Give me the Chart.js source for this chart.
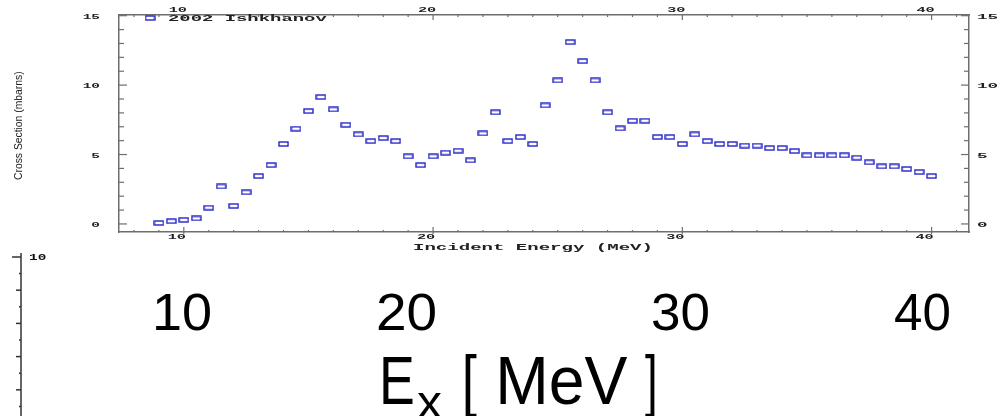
<!DOCTYPE html>
<html>
<head>
<meta charset="utf-8">
<script src="https://cdn.jsdelivr.net/npm/chart.js@4.4.1/dist/chart.umd.min.js"></script>
<style>
html, body { margin: 0; padding: 0; background: #fff; }
canvas { display: block; }
</style>
</head>
<body>
<canvas id="myChart" width="1004" height="416"></canvas>
<script>
// data
var energies = [9, 9.5, 10, 10.5, 11, 11.5, 12, 12.5, 13, 13.5, 14, 14.5, 15, 15.5, 16, 16.5,
  17, 17.5, 18, 18.5, 19, 19.5, 20, 20.5, 21, 21.5, 22, 22.5, 23, 23.5, 24, 24.5,
  25, 25.5, 26, 26.5, 27, 27.5, 28, 28.5, 29, 29.5, 30, 30.5, 31, 31.5, 32, 32.5,
  33, 33.5, 34, 34.5, 35, 35.5, 36, 36.5, 37, 37.5, 38, 38.5, 39, 39.5, 40];
var crossSection = [0.07, 0.2, 0.29, 0.4, 1.17, 2.7, 1.3, 2.28, 3.45, 4.24, 5.76, 6.86, 8.13, 9.14, 8.25, 7.14,
  6.45, 5.97, 6.19, 5.97, 4.87, 4.24, 4.87, 5.13, 5.27, 4.58, 6.52, 8.04, 5.97, 6.26, 5.76, 8.54,
  10.34, 13.1, 11.73, 10.34, 8.04, 6.88, 7.43, 7.43, 6.26, 6.26, 5.76, 6.45, 5.97, 5.76, 5.76, 5.64,
  5.64, 5.47, 5.47, 5.25, 4.94, 4.94, 4.94, 4.94, 4.77, 4.44, 4.15, 4.15, 3.96, 3.74, 3.45];
var seriesLabel = '2002 Ishkhanov';
var xTitle = 'Incident Energy (MeV)';
var yTitle = 'Cross Section (mbarns)';
var lowerTickLabels = ['10', '20', '30', '40'];
var lowerAxisLabel = '10';

var xMin = 7.4, xMax = 41.5;
var yMin = -0.58, yMax = 15.05;

var frameColor = '#6e6e6e';
var markColor = '#2323c8';
var tickFont = 'bold 8px "Liberation Mono"';

// open rectangle marker
var marker = document.createElement('canvas');
marker.width = 11;
marker.height = 6;
(function () {
  var c = marker.getContext('2d');
  c.strokeStyle = markColor;
  c.lineWidth = 1.4;
  c.strokeRect(1, 1, 9, 4);
})();

function fitText(ctx, text, left, right, baseline, font, color) {
  ctx.save();
  ctx.font = font;
  ctx.fillStyle = color;
  ctx.textAlign = 'left';
  ctx.textBaseline = 'alphabetic';
  var m = ctx.measureText(text);
  var ink = m.actualBoundingBoxLeft + m.actualBoundingBoxRight;
  ctx.translate(left, baseline);
  ctx.scale((right - left) / ink, 1);
  ctx.fillText(text, m.actualBoundingBoxLeft, 0);
  ctx.restore();
}

function stretchText(ctx, text, x, y, sx, font, align, color) {
  ctx.save();
  ctx.font = font;
  ctx.fillStyle = color;
  ctx.textAlign = align;
  ctx.textBaseline = 'middle';
  ctx.translate(x, y);
  ctx.scale(sx, 1);
  ctx.fillText(text, 0, 0);
  ctx.restore();
}

function line(ctx, x1, y1, x2, y2) {
  ctx.beginPath();
  ctx.moveTo(x1, y1);
  ctx.lineTo(x2, y2);
  ctx.stroke();
}

var decorPlugin = {
  id: 'decor',
  afterDraw: function (chart) {
    var ctx = chart.ctx;
    var a = chart.chartArea;
    var sx = chart.scales.x, sx2 = chart.scales.x2, sy = chart.scales.y, sy2 = chart.scales.y2;
    var v, p, len;

    // inward tick marks
    ctx.save();
    ctx.strokeStyle = frameColor;
    ctx.lineWidth = 1.2;
    for (v = Math.ceil(yMin); v <= yMax; v++) {
      p = sy.getPixelForValue(v);
      len = v % 5 === 0 ? 8 : 5;
      line(ctx, a.left, p, a.left + len, p);
      line(ctx, a.right - len, p, a.right, p);
    }
    for (v = Math.ceil(xMin); v <= xMax; v++) {
      p = sx.getPixelForValue(v);
      len = v % 10 === 0 ? 5 : 2;
      line(ctx, p, a.top, p, a.top + len);
      line(ctx, p, a.bottom - len, p, a.bottom + (v % 10 === 0 ? 2 : 0));
    }
    ctx.restore();

    // tick labels
    sy.ticks.forEach(function (t) {
      p = sy.getPixelForValue(t.value);
      stretchText(ctx, String(t.value), a.left - 19, p + 1, 1.8, tickFont, 'right', '#222');
    });
    sy2.ticks.forEach(function (t) {
      p = sy2.getPixelForValue(t.value);
      stretchText(ctx, String(t.value), a.right + 8, p + 1, 2.2, tickFont, 'left', '#222');
    });
    sx2.ticks.forEach(function (t) {
      p = sx2.getPixelForValue(t.value);
      stretchText(ctx, String(t.value), p - 6, a.top - 5, 1.9, tickFont, 'center', '#222');
    });
    sx.ticks.forEach(function (t) {
      p = sx.getPixelForValue(t.value);
      stretchText(ctx, String(t.value), p - 7, a.bottom + 5, 1.9, tickFont, 'center', '#222');
    });

    // legend
    ctx.drawImage(marker, 150 - marker.width / 2, 18 - marker.height / 2);
    fitText(ctx, seriesLabel, 168, 328, 21, 'bold 9px "Liberation Mono"', '#222');

    // axis titles
    fitText(ctx, xTitle, 413, 650, 250, 'bold 9px "Liberation Mono"', '#222');
    ctx.save();
    ctx.translate(22, 180);
    ctx.rotate(-Math.PI / 2);
    fitText(ctx, yTitle, 0, 108, 0, '11px "Liberation Sans"', '#222');
    ctx.restore();

    // fragment of the lower chart
    ctx.save();
    ctx.strokeStyle = '#333';
    ctx.lineWidth = 1.5;
    line(ctx, 21, 253, 21, 416);
    for (var k = 0; k < 10; k++) {
      p = 257 + k * 16.6;
      len = k === 0 ? 9 : (k % 2 === 0 ? 5 : 2);
      line(ctx, 21 - len, p, 21, p);
    }
    ctx.restore();
    stretchText(ctx, lowerAxisLabel, 29, 258, 1.6, 'bold 9px "Liberation Mono"', 'left', '#111');

    var bigBoxes = [[155, 210], [378, 435], [652, 708], [895, 949]];
    lowerTickLabels.forEach(function (lbl, i) {
      fitText(ctx, lbl, bigBoxes[i][0], bigBoxes[i][1], 329.5, '52px "Liberation Sans"', '#000');
    });
    fitText(ctx, 'E', 383, 413, 404, '68px "Liberation Sans"', '#000');
    fitText(ctx, 'x', 417, 442, 418, '46px "Liberation Sans"', '#000');
    fitText(ctx, '[', 465, 477, 404, '68px "Liberation Sans"', '#000');
    fitText(ctx, 'MeV', 500, 628, 404, '68px "Liberation Sans"', '#000');
    fitText(ctx, ']', 645, 655, 404, '68px "Liberation Sans"', '#000');
  }
};

var points = energies.map(function (e, i) { return { x: e, y: crossSection[i] }; });

function axisOpts(position, min, max, step, fitFn) {
  return {
    type: 'linear',
    position: position,
    min: min,
    max: max,
    grid: { display: false },
    border: { display: true, color: frameColor, width: 1.5 },
    ticks: { display: false, stepSize: step, includeBounds: false },
    afterFit: fitFn
  };
}

var ctx = document.getElementById('myChart').getContext('2d');
var myChart = new Chart(ctx, {
  type: 'scatter',
  data: {
    datasets: [{
      label: seriesLabel,
      data: points,
      pointStyle: marker,
      showLine: false,
      borderColor: markColor,
      backgroundColor: markColor
    }]
  },
  options: {
    responsive: false,
    animation: false,
    events: [],
    devicePixelRatio: 1,
    layout: { padding: 0 },
    plugins: {
      legend: { display: false },
      tooltip: { enabled: false }
    },
    scales: {
      x: axisOpts('bottom', xMin, xMax, 10, function (s) { s.height = 184; }),
      x2: Object.assign(axisOpts('top', xMin, xMax, 10, function (s) { s.height = 15; }), { axis: 'x' }),
      y: axisOpts('left', yMin, yMax, 5, function (s) { s.width = 119; }),
      y2: Object.assign(axisOpts('right', yMin, yMax, 5, function (s) { s.width = 35; }), { axis: 'y' })
    }
  },
  plugins: [decorPlugin]
});
</script>
</body>
</html>
